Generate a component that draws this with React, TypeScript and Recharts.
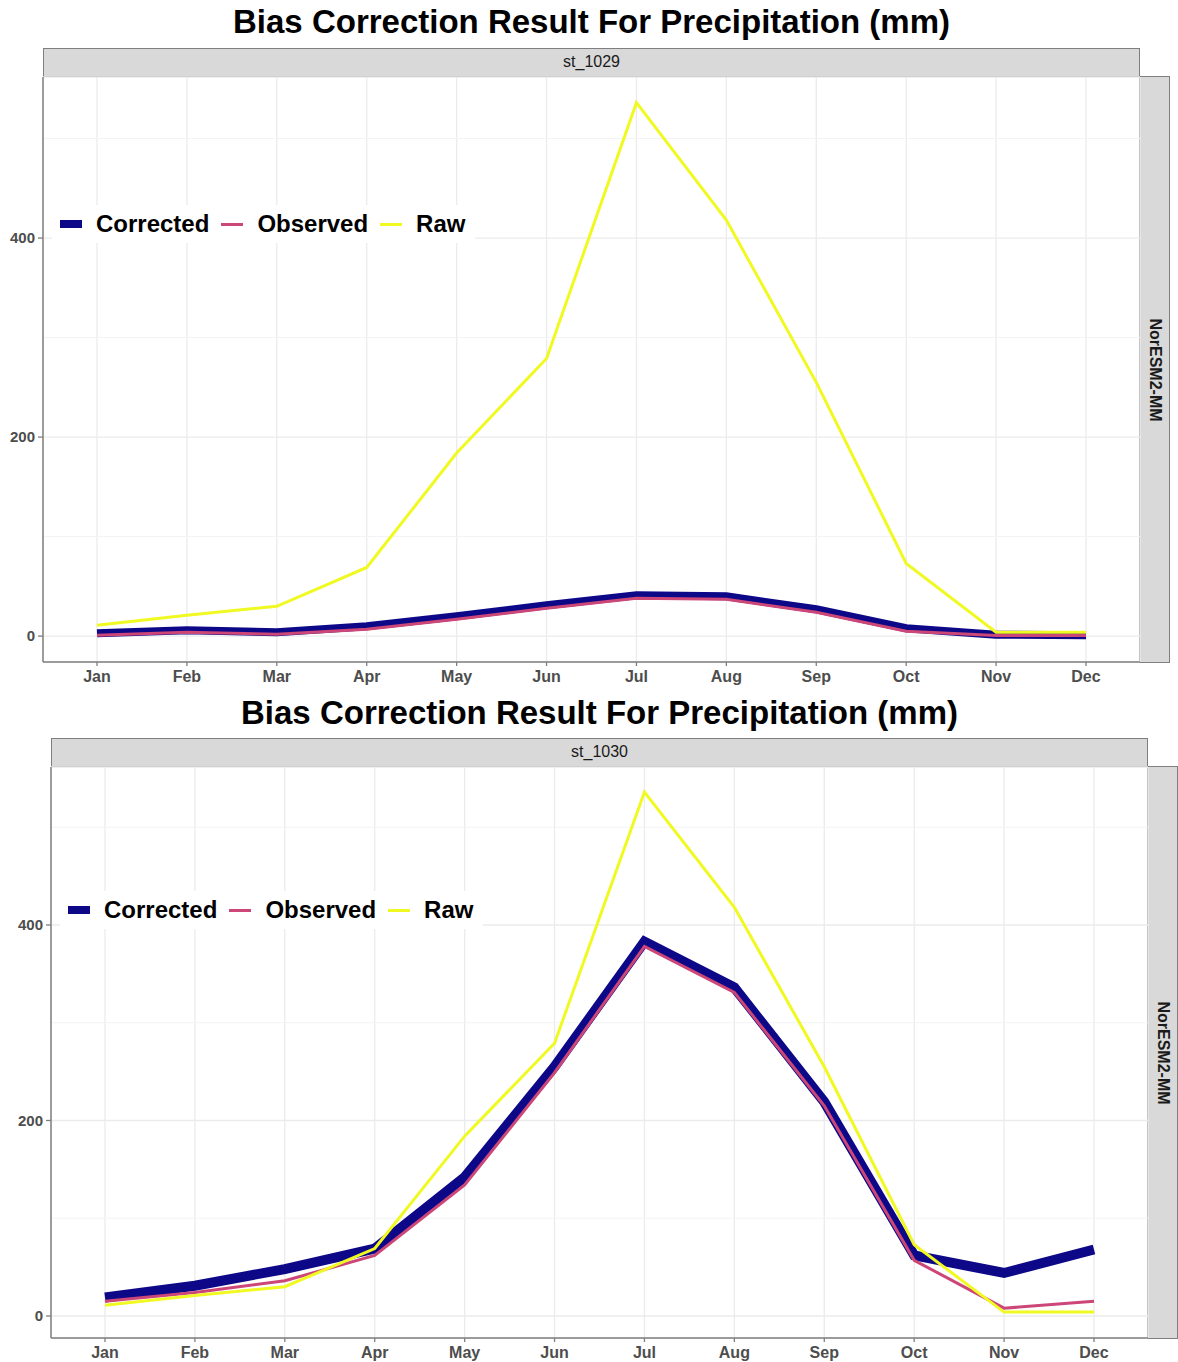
import { LineChart, Line, XAxis, YAxis, CartesianGrid, ReferenceLine } from 'recharts'

// monthly precipitation (mm)
const months = ['Jan', 'Feb', 'Mar', 'Apr', 'May', 'Jun', 'Jul', 'Aug', 'Sep', 'Oct', 'Nov', 'Dec']

// NorESM2-MM raw output, same grid cell for both stations
const rawNorESM = [11, 21, 30, 69, 184, 279, 536, 418, 255, 73, 4, 4]

const st1029Corrected = [3, 6, 4, 10, 20, 31, 41, 40, 27, 8, 1.5, 1]
const st1029Observed = [1, 4, 2, 7, 17, 28, 38, 37, 24, 5, 0.7, 0.7]

const st1030Corrected = [19, 31, 48, 69, 142, 255, 383, 336, 219, 62, 44, 68]
const st1030Observed = [15, 24, 36, 62, 134, 249, 378, 331, 215, 57, 8, 15]

const yTicks = [0, 200, 400]
const yMinorTicks = [100, 300, 500]

const seriesNames = ['Corrected', 'Observed', 'Raw']
const seriesColors: Record<string, string> = {
  Corrected: '#0D0887',
  Observed: '#CC4678',
  Raw: '#F0F921',
}

const FONT = '"Liberation Sans", Arial, Helvetica, sans-serif'
const PAGE_W = 1178
const TITLE = 'Bias Correction Result For Precipitation (mm)'

interface PanelProps {
  top: number
  height: number
  station: string
  corrected: number[]
  observed: number[]
  plotLeft: number
  plotRight: number
  plotTop: number
  plotBottom: number
  yDomain: [number, number]
  correctedWidth: number
  titleY: number
  legendY: number
}

function Panel(props: PanelProps) {
  const { top, height, station, corrected, observed, plotLeft, plotRight, plotTop, plotBottom, yDomain, correctedWidth, titleY, legendY } = props

  const data = months.map((m, i) => ({
    month: m,
    Corrected: corrected[i],
    Observed: observed[i],
    Raw: rawNorESM[i],
  }))

  const plotW = plotRight - plotLeft
  // ggplot style discrete expansion: 0.6 of a step on each side
  const step = plotW / (months.length - 1 + 1.2)
  const pad = Math.round(step * 0.6)

  return (
    <div style={{ position: 'absolute', left: 0, top, width: PAGE_W, height }}>
      <div
        style={{
          position: 'absolute',
          left: 0,
          width: (plotLeft + plotRight),
          top: titleY - 20,
          height: 40,
          lineHeight: '40px',
          textAlign: 'center',
          fontSize: 33,
          fontWeight: 'bold',
          color: '#000',
        }}
      >
        {TITLE}
      </div>

      {/* facet strip, top */}
      <div
        style={{
          position: 'absolute',
          left: plotLeft,
          top: 48,
          width: plotW,
          height: plotTop - 48,
          boxSizing: 'border-box',
          background: '#d9d9d9',
          border: '1.5px solid #7f7f7f',
          textAlign: 'center',
          fontSize: 16,
          lineHeight: `${plotTop - 48 - 3}px`,
          color: '#1a1a1a',
        }}
      >
        {station}
      </div>

      {/* facet strip, right */}
      <div
        style={{
          position: 'absolute',
          left: plotRight - 1,
          top: plotTop - 1,
          width: 31,
          height: plotBottom - plotTop + 2,
          boxSizing: 'border-box',
          background: '#d9d9d9',
          border: '1.5px solid #7f7f7f',
        }}
      >
        <div
          style={{
            position: 'absolute',
            left: '50%',
            top: '50%',
            transform: 'translate(-50%, -50%) rotate(90deg)',
            whiteSpace: 'nowrap',
            fontSize: 16,
            fontWeight: 'bold',
            color: '#1a1a1a',
          }}
        >
          NorESM2-MM
        </div>
      </div>

      <div style={{ position: 'absolute', left: 0, top: 0 }}>
        <LineChart
          width={PAGE_W}
          height={height}
          data={data}
          margin={{ top: plotTop, right: PAGE_W - plotRight, left: 0, bottom: 0 }}
        >
          <CartesianGrid stroke="#ebebeb" strokeWidth={1.3} />
          {yMinorTicks.map(v => (
            <ReferenceLine key={v} y={v} stroke="#f3f3f3" strokeWidth={1} />
          ))}
          <XAxis
            dataKey="month"
            height={height - plotBottom}
            padding={{ left: pad, right: pad }}
            axisLine={{ stroke: '#7f7f7f', strokeWidth: 1.5 }}
            tickLine={{ stroke: '#7f7f7f', strokeWidth: 1.3 }}
            tickSize={4}
            tickMargin={5}
            interval={0}
            tick={{ fill: '#4d4d4d', fontSize: 16, fontWeight: 'bold', fontFamily: FONT }}
          />
          <YAxis
            width={plotLeft}
            type="number"
            domain={yDomain}
            ticks={yTicks}
            allowDataOverflow
            axisLine={{ stroke: '#7f7f7f', strokeWidth: 1.5 }}
            tickLine={{ stroke: '#7f7f7f', strokeWidth: 1.3 }}
            tickSize={5}
            tickMargin={3}
            tick={{ fill: '#4d4d4d', fontSize: 15, fontWeight: 'bold', fontFamily: FONT }}
          />
          <Line
            type="linear"
            dataKey="Corrected"
            stroke={seriesColors.Corrected}
            strokeWidth={correctedWidth}
            dot={false}
            isAnimationActive={false}
          />
          <Line
            type="linear"
            dataKey="Observed"
            stroke={seriesColors.Observed}
            strokeWidth={3}
            dot={false}
            isAnimationActive={false}
          />
          <Line
            type="linear"
            dataKey="Raw"
            stroke={seriesColors.Raw}
            strokeWidth={3}
            dot={false}
            isAnimationActive={false}
          />
        </LineChart>
      </div>

      {/* legend, inside the panel */}
      <div
        style={{
          position: 'absolute',
          left: plotLeft + 9,
          top: legendY - 19,
          height: 38,
          padding: '0 10px 0 8px',
          background: '#fff',
          display: 'flex',
          alignItems: 'center',
          fontSize: 24,
          fontWeight: 'bold',
          color: '#000',
        }}
      >
        {seriesNames.map((name, i) => (
          <div key={name} style={{ display: 'flex', alignItems: 'center', marginLeft: i === 0 ? 0 : 12 }}>
            <div
              style={{
                width: 22,
                height: name === 'Corrected' ? 8 : 3,
                background: seriesColors[name],
                marginRight: 14,
              }}
            />
            <span>{name}</span>
          </div>
        ))}
      </div>
    </div>
  )
}

export default function App() {
  return (
    <div
      style={{
        position: 'absolute',
        left: 0,
        top: 0,
        width: PAGE_W,
        height: 1362,
        background: '#fff',
        fontFamily: FONT,
        overflow: 'hidden',
      }}
    >
      <Panel
        top={0}
        height={690}
        station="st_1029"
        corrected={st1029Corrected}
        observed={st1029Observed}
        plotLeft={43}
        plotRight={1140}
        plotTop={77}
        plotBottom={662}
        yDomain={[-26, 561.8]}
        correctedWidth={8}
        titleY={22}
        legendY={224}
      />
      <Panel
        top={690}
        height={672}
        station="st_1030"
        corrected={st1030Corrected}
        observed={st1030Observed}
        plotLeft={51}
        plotRight={1148}
        plotTop={77}
        plotBottom={648}
        yDomain={[-22.5, 561.6]}
        correctedWidth={10}
        titleY={23}
        legendY={220}
      />
    </div>
  )
}
